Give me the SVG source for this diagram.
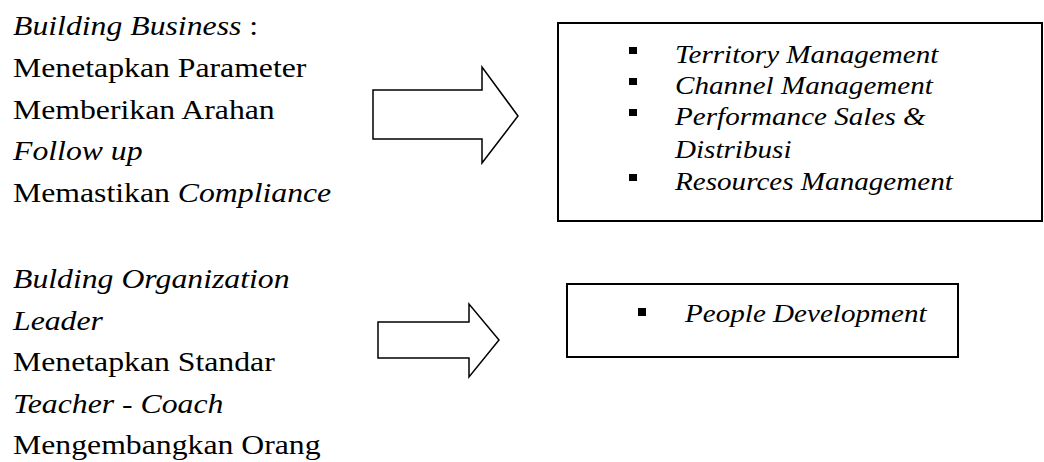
<svg xmlns="http://www.w3.org/2000/svg" width="1044" height="462" viewBox="0 0 1044 462">
<defs>
<style>
  .box { fill: #fff; stroke: #000; stroke-width: 2; }
  .arrow { fill: #fff; stroke: #000; stroke-width: 1.5; stroke-linejoin: miter; }
  .bullet { fill: #000; }
</style>
</defs>
<rect width="1044" height="462" fill="#fff"/>

<g id="building-business">
  <g transform="scale(1.134 1)" font-family="'Liberation Serif', serif" font-size="28">
    <text x="11.46" y="35"><tspan font-style="italic">Building Business</tspan> :</text>
    <text x="11.46" y="77">Menetapkan Parameter</text>
    <text x="11.46" y="119">Memberikan Arahan</text>
    <text x="11.46" y="160" font-style="italic">Follow up</text>
    <text x="11.46" y="202">Memastikan <tspan font-style="italic">Compliance</tspan></text>
  </g>
</g>

<g id="building-organization">
  <g transform="scale(1.134 1)" font-family="'Liberation Serif', serif" font-size="28">
    <text x="11.46" y="288" font-style="italic">Bulding Organization</text>
    <text x="11.46" y="330" font-style="italic">Leader</text>
    <text x="11.46" y="371">Menetapkan Standar</text>
    <text x="11.46" y="413" font-style="italic">Teacher - Coach</text>
    <text x="11.46" y="454">Mengembangkan Orang</text>
  </g>
</g>

<g id="connectors">
  <polygon class="arrow" points="373,90 482,90 482,67 518,116 482,163 482,139 373,139"/>
  <polygon class="arrow" points="378,322 469,322 469,304 499,340 469,377 469,358 378,358"/>
</g>

<g id="business-box">
  <rect class="box" x="558" y="23" width="484" height="198"/>
  <rect class="bullet" x="629" y="47" width="8" height="7"/>
  <rect class="bullet" x="629" y="78" width="8" height="7"/>
  <rect class="bullet" x="629" y="109" width="8" height="7"/>
  <rect class="bullet" x="629" y="174" width="8" height="7"/>
  <g transform="scale(1.12 1)" font-family="'Liberation Serif', serif" font-size="26" font-style="italic">
    <text x="602.7" y="63">Territory Management</text>
    <text x="602.7" y="94">Channel Management</text>
    <text x="602.7" y="125">Performance Sales &amp;</text>
    <text x="602.7" y="158">Distribusi</text>
    <text x="602.7" y="190">Resources Management</text>
  </g>
</g>

<g id="people-box">
  <rect class="box" x="567" y="284" width="391" height="73"/>
  <rect class="bullet" x="638" y="308" width="8" height="8"/>
  <g transform="scale(1.12 1)" font-family="'Liberation Serif', serif" font-size="26" font-style="italic">
    <text x="611.6" y="322">People Development</text>
  </g>
</g>
</svg>
